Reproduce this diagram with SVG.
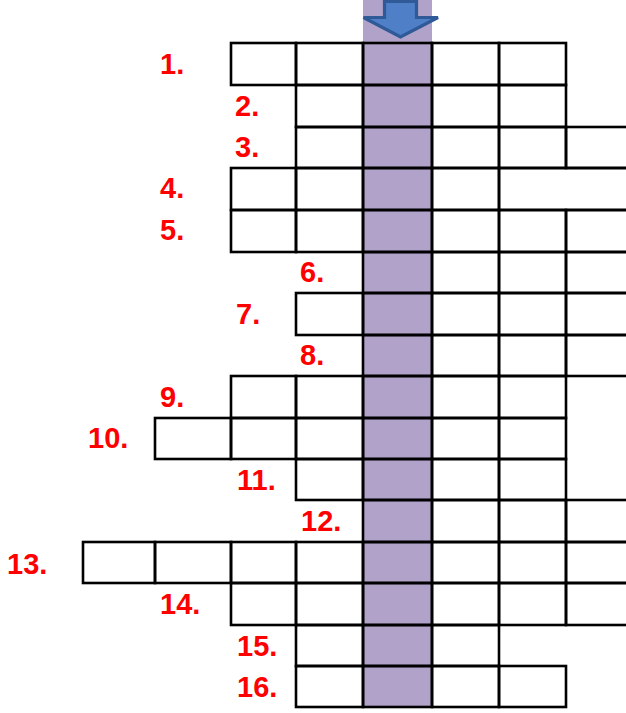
<svg xmlns="http://www.w3.org/2000/svg" width="626" height="713" viewBox="0 0 626 713">
<style>
.c{fill:none;stroke:#000;stroke-width:2.6}
.n{font-family:"Liberation Sans",Arial,sans-serif;font-weight:bold;font-size:29px;fill:#FF0000}
</style>
<rect width="626" height="713" fill="#fff"/>
<rect id="solution-column" x="363" y="0" width="69" height="707" fill="#B0A2C8"/>
<g id="arrow">
<polygon points="384.5,1.5 416.5,1.5 416.5,17.5 438,17.5 400.5,37 363.5,17.5 384.5,17.5" fill="#4E7FC7" stroke="#2F5A97" stroke-width="3.2" stroke-linejoin="miter"/>
</g>
<g id="row1"><rect class="c" x="231" y="43" width="65" height="42"/><rect class="c" x="296" y="43" width="67" height="42"/><rect class="c" x="363" y="43" width="69" height="42"/><rect class="c" x="432" y="43" width="67" height="42"/><rect class="c" x="499" y="43" width="67" height="42"/><text class="n" x="160" y="74">1.</text></g>
<g id="row2"><rect class="c" x="296" y="85" width="67" height="42"/><rect class="c" x="363" y="85" width="69" height="42"/><rect class="c" x="432" y="85" width="67" height="42"/><rect class="c" x="499" y="85" width="67" height="42"/><text class="n" x="235" y="116">2.</text></g>
<g id="row3"><rect class="c" x="296" y="127" width="67" height="41"/><rect class="c" x="363" y="127" width="69" height="41"/><rect class="c" x="432" y="127" width="67" height="41"/><rect class="c" x="499" y="127" width="67" height="41"/><rect class="c" x="566" y="127" width="70" height="41"/><text class="n" x="235" y="157">3.</text></g>
<g id="row4"><rect class="c" x="231" y="168" width="65" height="42"/><rect class="c" x="296" y="168" width="67" height="42"/><rect class="c" x="363" y="168" width="69" height="42"/><rect class="c" x="432" y="168" width="67" height="42"/><rect class="c" x="499" y="168" width="137" height="42"/><text class="n" x="160" y="198">4.</text></g>
<g id="row5"><rect class="c" x="231" y="210" width="65" height="42"/><rect class="c" x="296" y="210" width="67" height="42"/><rect class="c" x="363" y="210" width="69" height="42"/><rect class="c" x="432" y="210" width="67" height="42"/><rect class="c" x="499" y="210" width="67" height="42"/><rect class="c" x="566" y="210" width="70" height="42"/><text class="n" x="160" y="240">5.</text></g>
<g id="row6"><rect class="c" x="363" y="252" width="69" height="41"/><rect class="c" x="432" y="252" width="67" height="41"/><rect class="c" x="499" y="252" width="67" height="41"/><rect class="c" x="566" y="252" width="70" height="41"/><text class="n" x="300" y="282">6.</text></g>
<g id="row7"><rect class="c" x="296" y="293" width="67" height="42"/><rect class="c" x="363" y="293" width="69" height="42"/><rect class="c" x="432" y="293" width="67" height="42"/><rect class="c" x="499" y="293" width="67" height="42"/><rect class="c" x="566" y="293" width="70" height="42"/><text class="n" x="236" y="324">7.</text></g>
<g id="row8"><rect class="c" x="363" y="335" width="69" height="41"/><rect class="c" x="432" y="335" width="67" height="41"/><rect class="c" x="499" y="335" width="67" height="41"/><rect class="c" x="566" y="335" width="70" height="41"/><text class="n" x="300" y="365">8.</text></g>
<g id="row9"><rect class="c" x="231" y="376" width="65" height="42"/><rect class="c" x="296" y="376" width="67" height="42"/><rect class="c" x="363" y="376" width="69" height="42"/><rect class="c" x="432" y="376" width="67" height="42"/><rect class="c" x="499" y="376" width="67" height="42"/><text class="n" x="160" y="407">9.</text></g>
<g id="row10"><rect class="c" x="155" y="418" width="76" height="41"/><rect class="c" x="231" y="418" width="65" height="41"/><rect class="c" x="296" y="418" width="67" height="41"/><rect class="c" x="363" y="418" width="69" height="41"/><rect class="c" x="432" y="418" width="67" height="41"/><rect class="c" x="499" y="418" width="67" height="41"/><text class="n" x="88" y="448">10.</text></g>
<g id="row11"><rect class="c" x="296" y="459" width="67" height="41"/><rect class="c" x="363" y="459" width="69" height="41"/><rect class="c" x="432" y="459" width="67" height="41"/><rect class="c" x="499" y="459" width="67" height="41"/><text class="n" x="237" y="490">11.</text></g>
<g id="row12"><rect class="c" x="363" y="500" width="69" height="42"/><rect class="c" x="432" y="500" width="67" height="42"/><rect class="c" x="499" y="500" width="67" height="42"/><rect class="c" x="566" y="500" width="70" height="42"/><text class="n" x="301" y="531">12.</text></g>
<g id="row13"><rect class="c" x="83" y="542" width="72" height="41"/><rect class="c" x="155" y="542" width="76" height="41"/><rect class="c" x="231" y="542" width="65" height="41"/><rect class="c" x="296" y="542" width="67" height="41"/><rect class="c" x="363" y="542" width="69" height="41"/><rect class="c" x="432" y="542" width="67" height="41"/><rect class="c" x="499" y="542" width="67" height="41"/><rect class="c" x="566" y="542" width="70" height="41"/><text class="n" x="7" y="574">13.</text></g>
<g id="row14"><rect class="c" x="231" y="583" width="65" height="42"/><rect class="c" x="296" y="583" width="67" height="42"/><rect class="c" x="363" y="583" width="69" height="42"/><rect class="c" x="432" y="583" width="67" height="42"/><rect class="c" x="499" y="583" width="67" height="42"/><rect class="c" x="566" y="583" width="70" height="42"/><text class="n" x="160" y="614">14.</text></g>
<g id="row15"><rect class="c" x="296" y="625" width="67" height="41"/><rect class="c" x="363" y="625" width="69" height="41"/><rect class="c" x="432" y="625" width="67" height="41"/><text class="n" x="237" y="656">15.</text></g>
<g id="row16"><rect class="c" x="296" y="666" width="67" height="41"/><rect class="c" x="363" y="666" width="69" height="41"/><rect class="c" x="432" y="666" width="67" height="41"/><rect class="c" x="499" y="666" width="67" height="41"/><text class="n" x="237" y="697">16.</text></g>
</svg>
